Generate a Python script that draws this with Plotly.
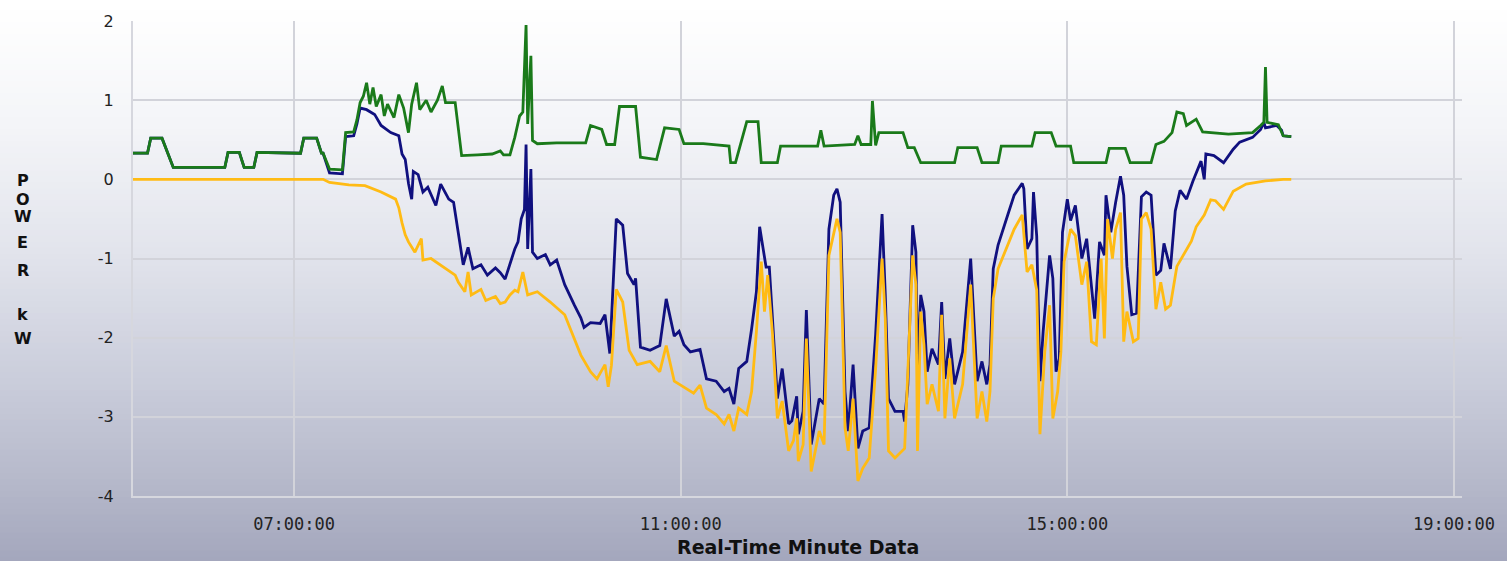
import plotly.graph_objects as go

DAY = "2012-06-01 "

# ---- data (time of day, kW) ----
load_time = ["05:20","05:29","05:31","05:38","05:45","06:17","06:19","06:26","06:29","06:35","06:37","07:04","07:06","07:14","07:17","07:18","07:22","07:30","07:32","07:37","07:39","07:41","07:43","07:45","07:47","07:49","07:51","07:54","07:56","07:58","08:02","08:05","08:08","08:11","08:13","08:16","08:18","08:22","08:25","08:29","08:32","08:34","08:40","08:44","08:54","09:03","09:08","09:10","09:14","09:17","09:20","09:22","09:24","09:25","09:27","09:28","09:31","09:43","10:01","10:04","10:11","10:14","10:19","10:22","10:32","10:35","10:45","10:50","10:59","11:02","11:14","11:25","11:30","11:31","11:34","11:41","11:48","11:50","12:00","12:02","12:25","12:27","12:29","12:48","12:50","12:52","12:58","12:59","13:01","13:03","13:18","13:21","13:25","13:29","13:50","13:52","14:04","14:07","14:17","14:19","14:38","14:40","14:50","14:53","15:02","15:04","15:24","15:26","15:36","15:39","15:52","15:55","16:00","16:05","16:08","16:12","16:14","16:20","16:24","16:40","16:55","17:00","17:02","17:03","17:04","17:11","17:14","17:19"]
load_kw = [0.33,0.33,0.52,0.52,0.15,0.15,0.34,0.34,0.15,0.15,0.34,0.33,0.52,0.52,0.33,0.33,0.13,0.12,0.59,0.60,0.75,0.97,1.05,1.22,0.95,1.16,0.92,1.07,0.80,0.95,0.78,1.07,0.90,0.59,0.95,1.22,0.88,1.00,0.85,1.00,1.18,0.97,0.97,0.30,0.31,0.32,0.36,0.31,0.31,0.53,0.80,0.85,1.95,0.70,1.56,0.49,0.45,0.46,0.46,0.68,0.63,0.44,0.44,0.92,0.92,0.28,0.25,0.65,0.63,0.45,0.45,0.43,0.42,0.21,0.21,0.73,0.73,0.21,0.21,0.42,0.42,0.62,0.42,0.44,0.55,0.44,0.44,0.99,0.43,0.59,0.59,0.40,0.40,0.21,0.21,0.40,0.40,0.21,0.21,0.42,0.42,0.59,0.59,0.42,0.42,0.21,0.21,0.39,0.39,0.21,0.21,0.44,0.48,0.59,0.85,0.83,0.68,0.76,0.60,0.57,0.59,0.68,0.72,1.42,0.72,0.69,0.55,0.54]

solar_time = ["05:20","07:18","07:22","07:34","07:44","07:54","08:03","08:05","08:07","08:09","08:11","08:15","08:19","08:20","08:25","08:34","08:40","08:42","08:46","08:48","08:50","08:56","08:59","09:05","09:08","09:11","09:14","09:17","09:19","09:22","09:25","09:31","09:39","09:48","09:51","09:58","10:04","10:08","10:13","10:15","10:17","10:20","10:24","10:28","10:33","10:41","10:47","10:51","10:56","11:02","11:08","11:12","11:16","11:22","11:27","11:30","11:33","11:36","11:41","11:44","11:47","11:50","11:52","11:54","11:57","12:00","12:03","12:07","12:10","12:12","12:13","12:16","12:18","12:21","12:26","12:29","12:32","12:37","12:39","12:42","12:44","12:47","12:50","12:53","12:57","13:01","13:05","13:07","13:09","13:13","13:18","13:19","13:24","13:26","13:27","13:29","13:31","13:33","13:36","13:40","13:42","13:44","13:47","13:50","13:55","13:58","14:00","14:01","14:04","14:07","14:10","14:12","14:14","14:17","14:21","14:27","14:32","14:35","14:38","14:41","14:43","14:46","14:49","14:51","14:54","14:56","14:58","15:02","15:05","15:09","15:12","15:15","15:18","15:21","15:23","15:25","15:28","15:30","15:33","15:35","15:37","15:41","15:44","15:46","15:49","15:52","15:55","15:58","16:01","16:04","16:08","16:12","16:17","16:20","16:25","16:29","16:32","16:37","16:43","16:51","17:03","17:14","17:19"]
solar_kw = [0.0,0.0,-0.04,-0.07,-0.08,-0.16,-0.25,-0.36,-0.55,-0.70,-0.79,-0.92,-0.75,-1.02,-1.00,-1.13,-1.21,-1.30,-1.42,-1.17,-1.46,-1.39,-1.53,-1.48,-1.57,-1.55,-1.46,-1.40,-1.42,-1.17,-1.46,-1.42,-1.55,-1.71,-1.87,-2.22,-2.43,-2.52,-2.34,-2.62,-2.35,-1.39,-1.55,-2.16,-2.34,-2.30,-2.43,-2.10,-2.55,-2.62,-2.70,-2.60,-2.89,-2.97,-3.09,-2.97,-3.18,-2.89,-2.97,-2.68,-1.92,-1.04,-1.67,-1.21,-1.96,-3.02,-2.80,-3.43,-3.30,-3.02,-3.56,-3.35,-2.01,-3.69,-3.18,-3.35,-0.96,-0.50,-0.67,-3.14,-3.43,-2.77,-3.81,-3.65,-3.52,-2.39,-1.00,-1.76,-3.43,-3.52,-3.43,-3.40,-0.96,-1.33,-3.43,-1.67,-2.09,-2.84,-2.59,-2.93,-1.71,-3.02,-2.26,-3.02,-2.59,-1.76,-1.33,-1.76,-3.02,-2.68,-3.06,-2.68,-1.51,-1.13,-0.92,-0.63,-0.45,-1.17,-1.08,-1.40,-3.22,-2.18,-1.59,-3.02,-2.68,-2.18,-1.04,-0.63,-0.71,-1.33,-1.04,-2.05,-2.09,-1.00,-2.01,-0.50,-1.00,-0.63,-0.42,-2.05,-1.67,-2.05,-2.01,-0.50,-0.42,-0.63,-1.64,-1.30,-1.64,-1.59,-1.10,-0.96,-0.78,-0.60,-0.45,-0.26,-0.27,-0.38,-0.15,-0.06,-0.02,0.0,0.0]

net_time = ["05:20","05:29","05:31","05:38","05:45","06:17","06:19","06:26","06:29","06:35","06:37","07:04","07:06","07:14","07:17","07:18","07:22","07:30","07:32","07:37","07:39","07:41","07:45","07:50","07:54","08:00","08:05","08:07","08:09","08:11","08:13","08:14","08:17","08:20","08:23","08:28","08:31","08:36","08:39","08:42","08:45","08:48","08:51","08:56","09:00","09:05","09:08","09:11","09:14","09:17","09:19","09:21","09:23","09:24","09:25","09:27","09:28","09:31","09:36","09:39","09:43","09:48","09:54","09:58","10:00","10:04","10:10","10:13","10:16","10:20","10:24","10:27","10:31","10:32","10:35","10:41","10:47","10:51","10:56","10:59","11:02","11:06","11:12","11:16","11:22","11:27","11:30","11:33","11:36","11:41","11:44","11:47","11:49","11:51","11:53","11:55","11:57","12:00","12:03","12:07","12:09","12:12","12:13","12:16","12:18","12:21","12:26","12:29","12:32","12:35","12:37","12:39","12:42","12:44","12:47","12:50","12:53","12:57","13:01","13:05","13:07","13:09","13:13","13:18","13:19","13:21","13:24","13:26","13:27","13:29","13:31","13:33","13:36","13:40","13:42","13:44","13:47","13:50","13:55","13:58","14:00","14:01","14:04","14:07","14:10","14:12","14:14","14:17","14:20","14:23","14:27","14:32","14:33","14:35","14:38","14:39","14:41","14:43","14:45","14:47","14:49","14:51","14:53","14:55","14:57","15:00","15:02","15:05","15:09","15:12","15:17","15:20","15:23","15:24","15:27","15:30","15:33","15:35","15:37","15:40","15:43","15:46","15:49","15:52","15:55","15:58","16:00","16:04","16:07","16:10","16:14","16:18","16:23","16:25","16:26","16:31","16:37","16:43","16:47","16:55","17:00","17:02","17:03","17:10","17:13","17:14","17:19"]
net_kw = [0.33,0.33,0.52,0.52,0.15,0.15,0.34,0.34,0.15,0.15,0.34,0.33,0.52,0.52,0.33,0.33,0.08,0.07,0.54,0.55,0.70,0.90,0.88,0.82,0.68,0.59,0.55,0.32,0.25,-0.05,-0.25,0.10,0.06,-0.16,-0.10,-0.33,-0.06,-0.25,-0.29,-0.70,-1.08,-0.86,-1.13,-1.08,-1.21,-1.12,-1.18,-1.26,-1.08,-0.88,-0.79,-0.50,-0.38,0.44,-0.88,0.13,-0.92,-1.00,-0.95,-1.08,-1.02,-1.33,-1.59,-1.75,-1.87,-1.81,-1.82,-1.71,-2.20,-0.50,-0.58,-1.19,-1.33,-1.25,-2.12,-2.16,-2.10,-1.51,-1.98,-1.92,-2.09,-2.18,-2.15,-2.52,-2.55,-2.68,-2.64,-2.84,-2.39,-2.30,-1.89,-1.42,-0.60,-0.88,-1.11,-1.11,-1.76,-2.77,-2.39,-3.09,-3.05,-2.74,-3.22,-2.93,-1.65,-3.35,-2.77,-2.84,-0.63,-0.20,-0.12,-0.29,-2.68,-3.18,-2.34,-3.40,-3.18,-3.14,-1.96,-0.44,-1.46,-2.77,-2.93,-2.93,-3.06,-2.59,-0.58,-0.92,-2.39,-1.46,-1.67,-2.43,-2.14,-2.34,-1.55,-2.52,-2.01,-2.59,-2.18,-1.51,-1.00,-1.38,-2.55,-2.30,-2.59,-2.34,-1.13,-0.83,-0.63,-0.45,-0.20,-0.05,-0.12,-0.88,-0.75,-0.16,-0.72,-2.55,-1.92,-1.42,-0.96,-1.25,-2.43,-2.26,-0.67,-0.25,-0.52,-0.33,-1.00,-0.75,-1.76,-0.79,-0.96,-0.20,-0.67,-0.29,0.04,-0.20,-1.10,-1.71,-1.69,-0.22,-0.16,-0.20,-1.21,-1.15,-0.81,-1.13,-0.40,-0.14,-0.25,-0.02,0.23,0.0,0.32,0.30,0.21,0.38,0.47,0.53,0.63,0.72,0.65,0.68,0.62,0.55,0.54]

x_tick_times = ["07:00", "11:00", "15:00", "19:00"]
x_tick_labels = ["07:00:00", "11:00:00", "15:00:00", "19:00:00"]
y_tick_vals = [-4, -3, -2, -1, 0, 1, 2]
y_tick_labels = ["-4", "-3", "-2", "-1", "0", "1", "2"]
x_range = ["05:20", "19:05"]
y_title_letters = ["P", "O", "W", "E", "R", "k", "W"]
x_title = "Real-Time Minute Data"


def ts(lst):
    return [DAY + t for t in lst]


W, H = 1507, 561
ML, MR, MT, MB = 133, 35, 16, 65
PH = H - MT - MB
PW = W - ML - MR

fig = go.Figure()
fig.add_trace(go.Scatter(x=ts(net_time), y=net_kw, mode="lines",
                         line=dict(color="#10107f", width=2.8), name="Net"))
fig.add_trace(go.Scatter(x=ts(solar_time), y=solar_kw, mode="lines",
                         line=dict(color="#ffbb14", width=2.8), name="Solar"))
fig.add_trace(go.Scatter(x=ts(load_time), y=load_kw, mode="lines",
                         line=dict(color="#1a7a1a", width=2.8), name="Load"))

# vertical background gradient (white at top to grey-blue at bottom)
stops = [(0, (255, 255, 255)), (120, (244, 245, 248)), (250, (226, 228, 236)),
         (380, (202, 205, 219)), (480, (182, 185, 203)), (561, (164, 167, 189))]


def bg(y):
    for (y0, c0), (y1, c1) in zip(stops[:-1], stops[1:]):
        if y0 <= y <= y1:
            f = (y - y0) / (y1 - y0)
            return tuple(round(a + (b - a) * f) for a, b in zip(c0, c1))
    return stops[-1][1]


shapes = []
band = 6
for y in range(0, H, band):
    c = bg(y + band / 2)
    p_top = (H - MB - y) / PH + 0.002
    p_bot = (H - MB - (y + band)) / PH
    shapes.append(dict(type="rect", xref="paper", yref="paper", x0=-0.2, x1=1.2,
                       y0=p_bot, y1=p_top, fillcolor="rgb(%d,%d,%d)" % c,
                       line=dict(width=0), layer="below"))

annotations = []
letter_y = [177, 196, 214, 240, 268, 313, 337]
for ch, yp in zip(y_title_letters, letter_y):
    annotations.append(dict(text=ch, xref="paper", yref="paper",
                            x=(22 - ML) / PW, y=(H - MB - yp) / PH,
                            showarrow=False, xanchor="center", yanchor="middle",
                            font=dict(family="DejaVu Sans", size=16, color="#111111",
                                      weight="bold")))
annotations.append(dict(text=x_title, xref="paper", yref="paper",
                        x=0.5, y=(H - MB - 548) / PH, showarrow=False,
                        xanchor="center", yanchor="middle",
                        font=dict(family="DejaVu Sans", size=19, color="#111111",
                                  weight="bold")))

grid = "rgb(210,211,218)"
fig.update_layout(
    width=W, height=H, autosize=False,
    margin=dict(l=ML, r=MR, t=MT, b=MB),
    paper_bgcolor="rgb(255,255,255)",
    plot_bgcolor="rgba(0,0,0,0)",
    showlegend=False,
    shapes=shapes,
    annotations=annotations,
    xaxis=dict(range=ts(x_range), tickvals=ts(x_tick_times), ticktext=x_tick_labels,
               showgrid=True, gridcolor=grid, gridwidth=1.5,
               showline=True, linecolor="rgb(214,215,222)", linewidth=2,
               ticks="", ticklabelstandoff=12,
               tickfont=dict(family="DejaVu Sans Mono", size=17, color="#222222"),
               zeroline=False, fixedrange=True),
    yaxis=dict(range=[-4, 2], tickvals=y_tick_vals, ticktext=y_tick_labels,
               showgrid=True, gridcolor=grid, gridwidth=1.5,
               showline=True, linecolor="rgb(214,215,222)", linewidth=2,
               ticks="", ticklabelstandoff=14,
               tickfont=dict(family="DejaVu Sans", size=16, color="#222222"),
               zeroline=False, fixedrange=True),
)

fig.write_html("out.html", config={"displayModeBar": False},
               post_script="document.body.style.margin='0px';"
                           "document.body.style.overflow='hidden';")
